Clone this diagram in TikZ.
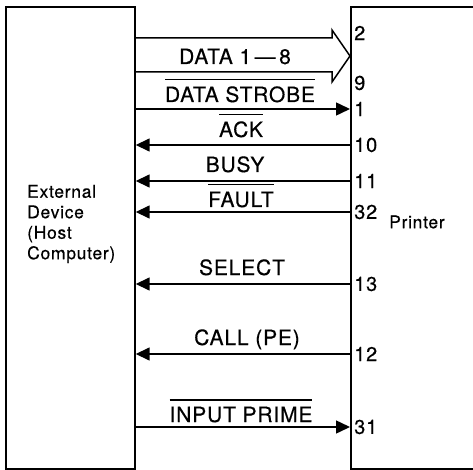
\documentclass[tikz,border=0pt]{standalone}
\usepackage{fontspec}
\setmainfont{TeX Gyre Heros}
\newfontfamily\sigfont[LetterSpace=4, FakeBold=0.4]{TeX Gyre Heros}
\newcommand{\ovl}[1]{\setbox0\hbox{#1}\rlap{\rule[21.5pt]{\wd0}{1.4pt}}\box0}
\usetikzlibrary{arrows.meta}

\begin{document}
\begin{tikzpicture}[
    x=1pt, y=-1pt,
    box/.style={rectangle, draw, line width=1.7pt, anchor=north west, inner sep=0pt},
    sig/.style={line width=1.5pt},
    tip/.style={-{Triangle[length=14pt,width=13pt]}},
    lbl/.style={font=\sigfont\fontsize{21}{24}\selectfont, anchor=base, inner sep=0pt},
    pin/.style={font=\sigfont\fontsize{20}{22}\selectfont, anchor=west, inner sep=0pt, xshift=4pt}
]
    \useasboundingbox (0,0) rectangle (473,470);
    \clip (0,0) rectangle (473,470);

    % Boxes
    \node[box, minimum width=129pt, minimum height=462pt] (host) at (5,6) {};
    \node[box, minimum width=140pt, minimum height=462pt] (printer) at (350,6) {};
    \node[anchor=west, align=left, inner sep=0pt, font=\sigfont\fontsize{17.5}{20.5}\selectfont] (hosttxt) at (27,224) {External\\Device\\(Host\\Computer)};
    \node[anchor=west, inner sep=0pt, font=\sigfont\fontsize{17.5}{20}\selectfont] (prtxt) at (389,222) {Printer};

    % Rows
    \coordinate (bustop) at (0,38);
    \coordinate (busbot) at (0,72);
    \coordinate (headtop) at (332,30);
    \coordinate (headbot) at (332,82);
    \coordinate (bustip) at (0,56);
    \coordinate (strobe) at (0,109);
    \coordinate (ack) at (0,145);
    \coordinate (busy) at (0,181);
    \coordinate (fault) at (0,212);
    \coordinate (select) at (0,284);
    \coordinate (call) at (0,354);
    \coordinate (prime) at (0,427);

    % Data bus
    \draw[sig, line join=miter] (host.east |- bustop) -- (headtop |- bustop) -- (headtop)
        -- (printer.west |- bustip) -- (headbot) -- (headbot |- busbot)
        -- (host.east |- busbot);
    \node[lbl] (datalbl) at (235,64) {DATA 1\,\textemdash\,8};

    % Signals
    \draw[sig, tip] (host.east |- strobe) -- (printer.west |- strobe);
    \draw[sig, tip] (printer.west |- ack) -- (host.east |- ack);
    \draw[sig, tip] (printer.west |- busy) -- (host.east |- busy);
    \draw[sig, tip] (printer.west |- fault) -- (host.east |- fault);
    \draw[sig, tip] (printer.west |- select) -- (host.east |- select);
    \draw[sig, tip] (printer.west |- call) -- (host.east |- call);
    \draw[sig, tip] (host.east |- prime) -- (printer.west |- prime);

    \node[lbl] (strobelbl) at (240,102) {\ovl{DATA STROBE}};
    \node[lbl] (acklbl) at (241,137) {\ovl{ACK}};
    \node[lbl] (busylbl) at (235,172) {BUSY};
    \node[lbl] (faultlbl) at (241,207) {\ovl{FAULT}};
    \node[lbl] (selectlbl) at (242,275) {SELECT};
    \node[lbl] (calllbl) at (247,345) {CALL (PE)};
    \node[lbl] (primelbl) at (241,422) {\ovl{INPUT PRIME}};

    % Pin numbers
    \node[pin] (pin2) at (printer.west |- 0,33) {2};
    \node[pin] (pin9) at (printer.west |- 0,83) {9};
    \node[pin] (pin1) at (printer.west |- strobe) {1};
    \node[pin] (pin10) at (printer.west |- ack) {10};
    \node[pin] (pin11) at (printer.west |- busy) {11};
    \node[pin] (pin32) at (printer.west |- fault) {32};
    \node[pin] (pin13) at (printer.west |- select) {13};
    \node[pin] (pin12) at (printer.west |- call) {12};
    \node[pin] (pin31) at (printer.west |- prime) {31};
\end{tikzpicture}
\end{document}
